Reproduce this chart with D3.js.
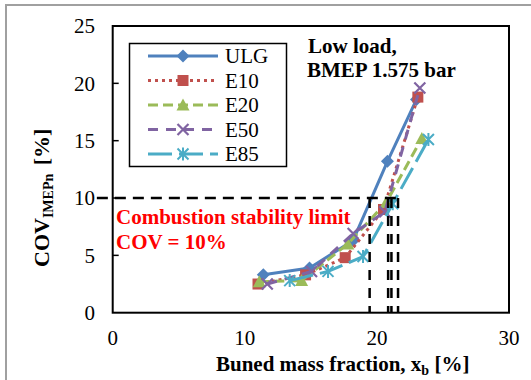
<!DOCTYPE html>
<html>
<head>
<meta charset="utf-8">
<script src="https://cdn.jsdelivr.net/npm/d3@7"></script>
<style>
  body { margin: 0; background: #fff; }
  svg text { font-family: 'Liberation Serif', 'Times New Roman', 'DejaVu Serif', serif; }
</style>
</head>
<body>
<div id="chart"></div>
<script>
// values: [burned mass fraction %, COV %]
const ulg = [[11.4, 3.3], [14.9, 3.9], [18.2, 6.3], [20.8, 13.2], [23.0, 18.6]];
const e10 = [[11.0, 2.5], [14.6, 3.3], [17.6, 4.8], [20.5, 9.0], [23.1, 18.8]];
const e20 = [[11.1, 2.7], [14.3, 2.8], [17.8, 6.0], [20.7, 9.6], [23.4, 15.2]];
const e50 = [[11.7, 2.5], [15.05, 3.6], [18.2, 6.9], [20.6, 8.8], [23.25, 19.6]];
const e85 = [[13.4, 2.8], [16.3, 3.6], [18.95, 4.9], [21.2, 9.5], [23.9, 15.1]];
const seriesNames = ['ULG', 'E10', 'E20', 'E50', 'E85'];
const xTicks = [0, 10, 20, 30];
const yTicks = [0, 5, 10, 15, 20, 25];
const limitCov = 10;
const limitXb = [19.45, 20.85, 21.1, 21.6];

const series = [
  { name: 'ULG', data: ulg, color: '#4F81BD', dash: null, width: 3, marker: 'diamond' },
  { name: 'E10', data: e10, color: '#C0504D', dash: '3,4', width: 3, marker: 'square' },
  { name: 'E20', data: e20, color: '#9BBB59', dash: '10,5', width: 3, marker: 'triangle' },
  { name: 'E50', data: e50, color: '#8064A2', dash: '10,8', width: 3, marker: 'x' },
  { name: 'E85', data: e85, color: '#4BACC6', dash: '24,7', width: 3, marker: 'star' }
];

const W = 531, H = 380;
const FONT = "'Liberation Serif', 'Times New Roman', 'DejaVu Serif', serif";
const svg = d3.select('#chart').append('svg').attr('width', W).attr('height', H)
  .attr('font-family', FONT);

// outer chart frame
svg.append('rect')
  .attr('x', 6).attr('y', 5).attr('width', 600).attr('height', 500)
  .attr('fill', 'none').attr('stroke', '#a0a0a0').attr('stroke-width', 2);

const pLeft = 112.7, pRight = 509, pTop = 26, pBottom = 312.7;
const x = d3.scaleLinear().domain([0, 30]).range([pLeft, pRight]);
const y = d3.scaleLinear().domain([0, 25]).range([pBottom, pTop]);

// y ticks (inside) and labels
svg.selectAll('.ytick').data(yTicks.slice(1, -1)).enter().append('line')
  .attr('x1', pLeft).attr('x2', pLeft + 6)
  .attr('y1', d => y(d)).attr('y2', d => y(d))
  .attr('stroke', '#000').attr('stroke-width', 1.5);

svg.selectAll('.ylab').data(yTicks).enter().append('text')
  .attr('x', 95).attr('y', d => y(d)).attr('dy', '0.35em')
  .attr('text-anchor', 'end').attr('font-size', 21).text(d => d);

svg.selectAll('.xlab').data(xTicks).enter().append('text')
  .attr('x', d => x(d)).attr('y', 345)
  .attr('text-anchor', 'middle').attr('font-size', 21).text(d => d);

const line = d3.line().x(d => x(d[0])).y(d => y(d[1]));

function drawMarker(g, type, color, cx, cy) {
  if (type === 'diamond') {
    g.append('path').attr('d', `M${cx},${cy - 6.5}L${cx + 6.5},${cy}L${cx},${cy + 6.5}L${cx - 6.5},${cy}Z`)
      .attr('fill', color);
  } else if (type === 'square') {
    g.append('rect').attr('x', cx - 5.5).attr('y', cy - 5.5).attr('width', 11).attr('height', 11)
      .attr('fill', color);
  } else if (type === 'triangle') {
    g.append('path').attr('d', `M${cx},${cy - 6.5}L${cx + 6.5},${cy + 5.5}L${cx - 6.5},${cy + 5.5}Z`)
      .attr('fill', color);
  } else if (type === 'x') {
    g.append('path').attr('d', `M${cx - 5.5},${cy - 5.5}L${cx + 5.5},${cy + 5.5}M${cx - 5.5},${cy + 5.5}L${cx + 5.5},${cy - 5.5}`)
      .attr('stroke', color).attr('stroke-width', 2.2).attr('fill', 'none');
  } else {
    g.append('path').attr('d', `M${cx - 5.5},${cy - 5.5}L${cx + 5.5},${cy + 5.5}M${cx - 5.5},${cy + 5.5}L${cx + 5.5},${cy - 5.5}M${cx},${cy - 6.5}L${cx},${cy + 6.5}`)
      .attr('stroke', color).attr('stroke-width', 2).attr('fill', 'none');
  }
}

series.forEach(s => {
  const g = svg.append('g');
  g.append('path').datum(s.data).attr('d', line)
    .attr('fill', 'none').attr('stroke', s.color).attr('stroke-width', s.width)
    .attr('stroke-dasharray', s.dash).attr('stroke-linejoin', 'round');
  s.data.forEach(d => drawMarker(g, s.marker, s.color, x(d[0]), y(d[1])));
});

// combustion stability limit lines
svg.append('line')
  .attr('x1', x(-1.2)).attr('x2', x(d3.max(limitXb)))
  .attr('y1', y(limitCov)).attr('y2', y(limitCov))
  .attr('stroke', '#000').attr('stroke-width', 2.5).attr('stroke-dasharray', '11,7');
svg.selectAll('.vlim').data(limitXb).enter().append('line')
  .attr('x1', d => x(d)).attr('x2', d => x(d))
  .attr('y1', y(limitCov)).attr('y2', y(0))
  .attr('stroke', '#000').attr('stroke-width', 2.5).attr('stroke-dasharray', '10,8');

// plot border
svg.append('rect')
  .attr('x', pLeft).attr('y', pTop).attr('width', pRight - pLeft).attr('height', pBottom - pTop)
  .attr('fill', 'none').attr('stroke', '#000').attr('stroke-width', 2);

// legend
const lg = svg.append('g');
lg.append('rect').attr('x', 129.5).attr('y', 43.5).attr('width', 157).attr('height', 123)
  .attr('fill', '#fff').attr('stroke', '#000').attr('stroke-width', 1.5);
series.forEach((s, i) => {
  const ly = 56 + i * 24.5;
  lg.append('line').attr('x1', 148).attr('x2', 218).attr('y1', ly).attr('y2', ly)
    .attr('stroke', s.color).attr('stroke-width', s.width).attr('stroke-dasharray', s.dash);
  drawMarker(lg, s.marker, s.color, 183, ly);
  lg.append('text').attr('x', 225).attr('y', ly).attr('dy', '0.35em')
    .attr('font-size', 21).text(seriesNames[i]);
});

// annotations
svg.append('text').attr('x', 308).attr('y', 53).attr('font-size', 21).attr('font-weight', 'bold')
  .text('Low load,');
svg.append('text').attr('x', 307).attr('y', 77).attr('font-size', 21).attr('font-weight', 'bold')
  .text('BMEP 1.575 bar');
svg.append('text').attr('x', 116).attr('y', 224).attr('font-size', 21).attr('font-weight', 'bold')
  .attr('fill', '#FF0000').text('Combustion stability limit');
svg.append('text').attr('x', 116).attr('y', 249).attr('font-size', 21).attr('font-weight', 'bold')
  .attr('fill', '#FF0000').text('COV = 10%');

// axis titles
const xt = svg.append('text').attr('x', 216).attr('y', 371).attr('font-size', 21).attr('font-weight', 'bold');
xt.append('tspan').text('Buned mass fraction, x');
xt.append('tspan').attr('font-size', 14).attr('dy', 4).text('b');
xt.append('tspan').attr('dy', -4).text(' [%]');

const yt = svg.append('text').attr('transform', 'translate(49,267) rotate(-90)')
  .attr('font-size', 22).attr('font-weight', 'bold');
yt.append('tspan').text('COV');
yt.append('tspan').attr('font-size', 14).attr('dy', 4).text('IMEPn');
yt.append('tspan').attr('dy', -4).attr('dx', 3).text(' [%]');
</script>
</body>
</html>
